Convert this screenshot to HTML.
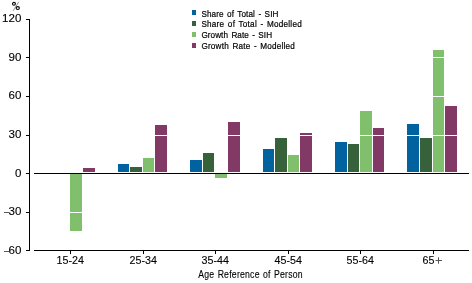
<!DOCTYPE html>
<html><head><meta charset="utf-8"><style>
html,body{margin:0;padding:0;background:#fff;}
svg{display:block;will-change:transform;}
text{font-family:"Liberation Sans",sans-serif;fill:#000;stroke:#000;stroke-width:0.12px;}
.ax{font-size:10.7px;}
.pc{font-size:10.5px;stroke-width:0.1px;}
.lg{font-size:9.5px;word-spacing:1.2px;stroke-width:0.22px;}
.tt{font-size:10.6px;word-spacing:0.8px;}
</style></head><body>
<svg width="472" height="283" viewBox="0 0 472 283">
<rect x="70.00" y="174.00" width="12.00" height="57.00" fill="#80BF6B"/>
<rect x="83.00" y="168.00" width="12.00" height="4.00" fill="#833965"/>
<rect x="118.00" y="164.00" width="11.00" height="8.00" fill="#00629F"/>
<rect x="130.00" y="167.00" width="12.00" height="5.00" fill="#36613A"/>
<rect x="143.00" y="158.00" width="11.00" height="14.00" fill="#80BF6B"/>
<rect x="155.00" y="125.00" width="12.00" height="47.00" fill="#833965"/>
<rect x="190.00" y="160.00" width="12.00" height="12.00" fill="#00629F"/>
<rect x="203.00" y="153.00" width="11.00" height="19.00" fill="#36613A"/>
<rect x="215.00" y="174.00" width="12.00" height="4.00" fill="#80BF6B"/>
<rect x="228.00" y="122.00" width="12.00" height="50.00" fill="#833965"/>
<rect x="263.00" y="149.00" width="11.00" height="23.00" fill="#00629F"/>
<rect x="275.00" y="138.00" width="12.00" height="34.00" fill="#36613A"/>
<rect x="288.00" y="155.00" width="11.00" height="17.00" fill="#80BF6B"/>
<rect x="300.00" y="133.00" width="12.00" height="39.00" fill="#833965"/>
<rect x="335.00" y="142.00" width="12.00" height="30.00" fill="#00629F"/>
<rect x="348.00" y="144.00" width="11.00" height="28.00" fill="#36613A"/>
<rect x="360.00" y="111.00" width="12.00" height="61.00" fill="#80BF6B"/>
<rect x="373.00" y="128.00" width="11.00" height="44.00" fill="#833965"/>
<rect x="407.00" y="124.00" width="12.00" height="48.00" fill="#00629F"/>
<rect x="420.00" y="138.00" width="12.00" height="34.00" fill="#36613A"/>
<rect x="433.00" y="50.00" width="11.00" height="122.00" fill="#80BF6B"/>
<rect x="445.00" y="106.00" width="12.00" height="66.00" fill="#833965"/>
<rect x="34.00" y="57.00" width="435.00" height="1.00" fill="#fff"/>
<rect x="34.00" y="96.00" width="435.00" height="1.00" fill="#fff"/>
<rect x="34.00" y="135.00" width="435.00" height="1.00" fill="#fff"/>
<rect x="34.00" y="212.00" width="435.00" height="1.00" fill="#fff"/>
<rect x="29.00" y="19.00" width="1.00" height="232.00" fill="#000"/>
<rect x="26.00" y="19.00" width="3.00" height="1.00" fill="#000"/>
<rect x="26.00" y="57.00" width="3.00" height="1.00" fill="#000"/>
<rect x="26.00" y="96.00" width="3.00" height="1.00" fill="#000"/>
<rect x="26.00" y="135.00" width="3.00" height="1.00" fill="#000"/>
<rect x="26.00" y="173.00" width="3.00" height="1.00" fill="#000"/>
<rect x="26.00" y="212.00" width="3.00" height="1.00" fill="#000"/>
<rect x="26.00" y="250.00" width="3.00" height="1.00" fill="#000"/>
<rect x="34.00" y="173.00" width="435.00" height="1.00" fill="#000"/>
<rect x="34.00" y="250.00" width="435.00" height="1.00" fill="#000"/>
<rect x="70.00" y="251.00" width="1.00" height="3.00" fill="#000"/>
<rect x="143.00" y="251.00" width="1.00" height="3.00" fill="#000"/>
<rect x="215.00" y="251.00" width="1.00" height="3.00" fill="#000"/>
<rect x="288.00" y="251.00" width="1.00" height="3.00" fill="#000"/>
<rect x="360.00" y="251.00" width="1.00" height="3.00" fill="#000"/>
<rect x="433.00" y="251.00" width="1.00" height="3.00" fill="#000"/>
<rect x="4.00" y="212.00" width="5.00" height="1.00" fill="#5a5a5a"/>
<rect x="4.00" y="251.00" width="5.00" height="1.00" fill="#5a5a5a"/>
<rect x="435.60" y="260.00" width="6.40" height="1.00" fill="#555"/>
<rect x="438.00" y="257.30" width="1.00" height="6.40" fill="#555"/>
<rect x="192.00" y="10.00" width="4.00" height="5.00" fill="#00629F"/>
<rect x="192.00" y="21.00" width="4.00" height="5.00" fill="#36613A"/>
<rect x="192.00" y="32.00" width="4.00" height="5.00" fill="#80BF6B"/>
<rect x="192.00" y="43.00" width="4.00" height="5.00" fill="#833965"/>
<text transform="translate(21.3,21.90) scale(1.08,1)" text-anchor="end" class="ax">120</text>
<text transform="translate(21.3,60.55) scale(1.08,1)" text-anchor="end" class="ax">90</text>
<text transform="translate(21.3,99.20) scale(1.08,1)" text-anchor="end" class="ax">60</text>
<text transform="translate(21.3,137.85) scale(1.08,1)" text-anchor="end" class="ax">30</text>
<text transform="translate(21.3,176.50) scale(1.08,1)" text-anchor="end" class="ax">0</text>
<text transform="translate(21.3,215.15) scale(1.08,1)" text-anchor="end" class="ax">30</text>
<text transform="translate(21.3,253.80) scale(1.08,1)" text-anchor="end" class="ax">60</text>
<text x="70.20" y="263.7" text-anchor="middle" class="ax">15-24</text>
<text x="143.20" y="263.7" text-anchor="middle" class="ax">25-34</text>
<text x="215.20" y="263.7" text-anchor="middle" class="ax">35-44</text>
<text x="288.20" y="263.7" text-anchor="middle" class="ax">45-54</text>
<text x="360.20" y="263.7" text-anchor="middle" class="ax">55-64</text>
<text x="434.4" y="263.7" text-anchor="end" class="ax">65</text>
<line x1="18.7" y1="1.9" x2="13.1" y2="10.9" stroke="#777" stroke-width="0.8"/>
<ellipse cx="13.95" cy="3.85" rx="1.45" ry="1.45" fill="none" stroke="#000" stroke-width="1.1"/>
<ellipse cx="17.75" cy="8.1" rx="1.6" ry="1.45" fill="none" stroke="#000" stroke-width="1.1"/>
<text transform="translate(198.2,277.7) scale(0.82,1)" class="tt" textLength="127.44" lengthAdjust="spacing">Age Reference of Person</text>
<text transform="translate(201.4,17) scale(0.86,1)" x="0" y="0" class="lg" textLength="89.53" lengthAdjust="spacing">Share of Total - SIH</text>
<text transform="translate(201.4,27) scale(0.86,1)" x="0" y="0" class="lg" textLength="116.63" lengthAdjust="spacing">Share of Total - Modelled</text>
<text transform="translate(201.4,38) scale(0.86,1)" x="0" y="0" class="lg" textLength="82.21" lengthAdjust="spacing">Growth Rate - SIH</text>
<text transform="translate(201.4,49) scale(0.86,1)" x="0" y="0" class="lg" textLength="108.60" lengthAdjust="spacing">Growth Rate - Modelled</text>
</svg></body></html>
